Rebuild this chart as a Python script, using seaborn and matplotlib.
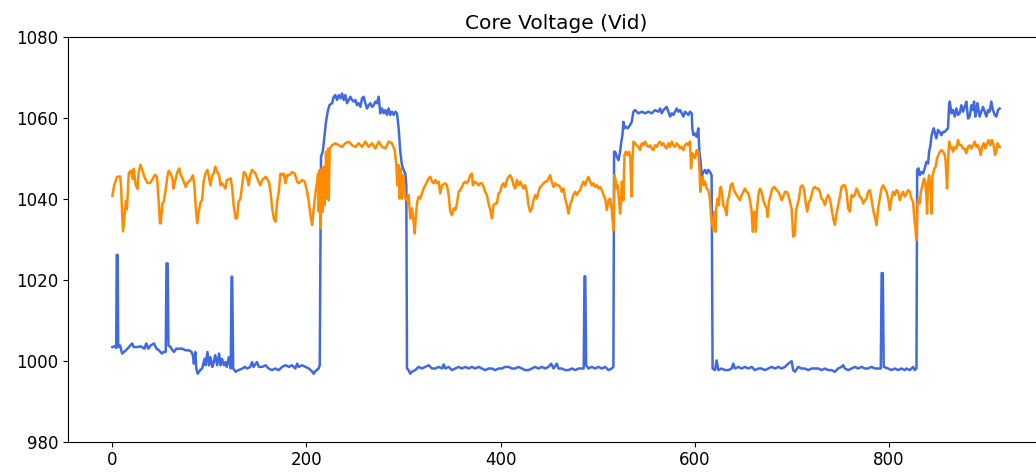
import matplotlib
matplotlib.use('Agg')
import matplotlib.pyplot as plt
import seaborn as sns

# Vid samples (sample index, mV)
blue_x = [0, 2, 4, 4.5, 5.5, 6, 8, 10, 12, 14, 17, 20.5, 22, 26, 29, 33, 35, 37, 39.5, 43, 45.5, 48, 51, 53, 55,
          55.8, 57, 57.8, 60, 62, 63.5, 66, 69, 72, 75.5, 79, 81.5, 83, 84, 85.5, 86.5, 88, 90.5, 92.5, 95, 96, 98,
          99.5, 101, 103, 104.5, 106, 108, 110, 111.5, 113, 115, 116.5, 118, 120, 122, 122.8, 123.5, 124.5, 127,
          130, 134, 136.5, 139, 142, 144, 145.5, 149, 151, 154.5,
          158, 161, 164.5, 168, 171.5, 175, 178.5, 182, 185, 188.5, 190.5, 192, 195.5, 199, 202.5, 206, 207.5, 209,
          212.5, 213.7, 215, 216.8, 217.8, 219, 220.2, 221.3, 222.3, 223.7, 226.4, 228.1, 229.8, 231.5, 233.3, 235,
          236.7, 238.4, 240.1, 241.8, 243.6, 245.3, 247, 248.7, 250.4, 252.1, 253.8, 255.6, 257.3, 259, 260.7,
          262.4, 264.1, 265.9, 267.6, 269.3, 271, 272.7, 274.4, 276.1, 277.9, 279.6, 281.3, 283, 284.7, 286.4,
          288.1, 289.9, 291.6, 293.3, 295, 296.7, 298.4, 300.1, 301.9, 302.9, 303.6, 305.3, 307, 308.7, 312.1,
          315.6, 319,
          322.5, 325.9, 329.4, 332.8, 336.2, 339.7, 341.4, 343.1, 346.5, 349.9, 353.4, 356.8, 360.2, 363.7, 367.1,
          370.5, 373.9, 377.4, 380.8, 384.2, 387.7, 391.1, 394.5, 398, 401.4, 404.8, 408.3, 411.7, 415.1, 418.5,
          422, 425.4, 428.8, 432.3, 435.7, 439.1, 442.6, 446, 449.4, 452.2, 454.6, 458, 459.7, 463.1, 466.6, 470,
          473.4, 476.9, 480.3, 483.7, 485.7, 486.5, 487.3, 488.2, 490.6,
          494, 497.5, 500.9, 504.4, 507.8, 511.2, 514.6, 516.3, 517, 518.1, 519.8, 521.5, 523.2, 524.2, 525.6,
          526.6, 527.7, 529, 531.1, 533.5, 535.2, 536.9, 538.6, 542.1, 545.5, 548.9, 552.4, 555.8, 559.2, 562.7,
          564.4, 566.1, 567.8, 569.5, 571.2, 573, 574.7, 576.4, 578.1, 579.8, 581.5, 583.2, 585, 586.7, 588.4,
          590.1, 591.8, 593.5, 595.2, 597, 597.6, 598.7, 600.4, 602.1, 603.8, 604.9, 606.2, 607.2, 609, 610.7,
          612.4, 614.1, 615.8, 617.5, 618.5, 621, 622.7, 624.4, 627.8, 631.3, 634.7, 638.1, 639.8, 641.6, 645,
          648.4, 651.9,
          655.3, 658.8, 662.2, 665.6, 669, 672.5, 675.9, 679.3, 682.8, 686.2, 689.6, 693.1, 696.5, 699.9, 701.6,
          703.3, 706.8, 710.2, 713.6, 717.1, 720.5, 723.9, 727.4, 730.8, 734.2, 737.6, 741.1, 744.5, 747.9, 751.4,
          753.1, 754.8, 758.2, 761.7, 765.1, 768.5, 772, 775.4, 778.8, 782.2, 785.7, 789.1, 791.8, 792.7, 793.9,
          794.8, 799.4, 802.8, 806.3, 809.7, 813.1, 816.6,
          818.3, 821.7, 823.4, 825.1, 826.8, 828.6, 829.3, 830.6, 832, 833.7, 835.4, 837.1, 838.8, 840.6, 841.6,
          843, 844, 845, 846.4, 847.8, 849.1, 850.8, 852.6, 854.3, 856, 857.7, 859.4, 861.1, 862.2, 862.9, 864.6,
          866.3, 868, 869.7, 871.4, 873.1, 874.9, 876.6, 878.3, 880, 881.7, 883.4, 885.2, 886.9, 887.9, 889.3,
          890.3, 891.3, 892.3, 893.7, 895.4, 897.2, 898.9, 900.6, 902.3, 904, 905.7, 907.4, 909.2, 910.9, 912.6,
          914.3]
blue_y = [1003.4, 1003.6, 1003.2, 1026.2, 1026.2, 1003.4, 1003.8, 1001.8, 1002.2, 1002.6, 1003.4, 1004.3, 1003.4,
          1003.4, 1003.6, 1003.0, 1004.3, 1003.0, 1003.8, 1004.3, 1003.0, 1002.6, 1001.8, 1002.2, 1002.2,
          1024.1, 1024.1, 1003.8, 1003.4, 1002.6, 1002.2, 1003.0, 1003.0, 1003.0, 1002.6, 1002.6, 1002.2, 1001.4,
          999.3, 1002.2, 998.1, 996.8, 997.7, 998.1, 1000.5, 998.9, 1002.2, 998.9, 1000.9, 998.5, 999.7, 1001.4,
          998.9, 1001.8, 998.9, 1000.5, 998.9, 999.7, 998.5, 1000.9, 998.1, 1020.8, 1020.8, 998.1, 997.3,
          997.7, 998.1, 998.5, 998.1, 998.5, 999.7, 998.5, 999.7, 998.5, 998.5,
          998.9, 998.1, 997.7, 998.1, 997.7, 998.5, 998.9, 998.5, 998.9, 998.1, 999.3, 998.5, 998.9, 998.5, 998.1,
          997.3, 996.8, 997.4, 998.1, 998.9, 1050.5, 1051.7, 1053.8, 1056.6, 1059.1, 1060.8, 1062.0, 1063.2,
          1063.7, 1065.3, 1065.7, 1064.5, 1065.7, 1064.9, 1066.1, 1064.5, 1065.7, 1063.7, 1064.5, 1065.3, 1064.5,
          1064.1, 1064.5, 1063.2, 1063.7, 1062.8, 1064.9, 1065.3, 1063.7, 1062.4, 1063.2, 1063.7, 1062.8, 1063.2,
          1064.1, 1063.7, 1065.3, 1061.2, 1062.4, 1061.2, 1062.0, 1060.8, 1062.4, 1060.8, 1061.6, 1060.8, 1061.6,
          1061.2, 1057.5, 1051.7, 1048.4, 1047.2, 1046.3, 1043.4, 998.1, 997.7, 996.8, 997.3, 997.7, 998.5, 998.1,
          998.5, 998.9, 998.1, 998.1, 998.5, 998.1, 999.1, 998.1, 998.5, 997.7, 998.1, 998.5, 998.1, 998.5, 998.1,
          998.5, 998.1, 998.5, 998.1, 997.7, 998.1, 998.1, 997.7, 998.1, 998.1, 998.5, 998.5, 998.1, 998.1, 998.5,
          998.1, 997.7, 997.7, 998.1, 998.5, 998.1, 998.5, 998.1, 998.5, 999.3, 998.1, 999.3, 998.1, 998.1, 997.7,
          997.7, 998.1, 997.7, 998.1, 998.1, 998.1, 1020.9, 1020.9, 998.9, 998.1,
          998.5, 998.1, 998.5, 998.1, 998.5, 997.7, 998.1, 998.5, 1051.7, 1051.7, 1050.5, 1049.6, 1051.7, 1053.8,
          1055.8, 1059.1, 1057.5, 1057.9, 1057.5, 1058.3, 1059.1, 1061.6, 1062.0, 1061.2, 1061.6, 1061.2, 1061.6,
          1061.2, 1062.0, 1061.6, 1062.4, 1061.2, 1062.0, 1062.4, 1062.8, 1061.6, 1060.4, 1061.2, 1060.8, 1061.6,
          1062.4, 1061.6, 1062.0, 1061.2, 1060.4, 1061.6, 1061.2, 1060.8, 1061.6, 1061.2, 1057.5, 1055.8, 1056.2,
          1055.4, 1057.5, 1051.7, 1049.2, 1045.5, 1046.7, 1047.2, 1046.3, 1047.2, 1046.7, 1045.9, 998.1, 997.7,
          1000.1, 997.7, 998.1, 997.7, 997.7, 998.1, 999.3, 998.1, 998.5, 998.1, 998.5,
          998.1, 998.5, 997.7, 998.1, 998.1, 997.7, 998.1, 998.5, 998.1, 998.5, 998.1, 998.5, 999.3, 999.9, 997.7,
          997.3, 998.5, 998.1, 998.1, 997.7, 998.1, 998.1, 998.1, 997.7, 998.1, 997.7, 997.7, 997.3, 998.1, 998.5,
          998.9, 998.1, 997.7, 998.1, 998.5, 998.1, 998.5, 998.1, 998.1, 998.5, 998.1, 998.1, 998.1, 1021.7,
          1021.7, 998.5, 998.1, 997.7, 998.1, 997.7, 998.1, 997.7,
          998.1, 997.7, 998.1, 998.5, 997.7, 998.1, 1047.2, 1047.6, 1045.9, 1046.7, 1046.3, 1047.6, 1049.2,
          1048.8, 1051.7, 1053.3, 1055.4, 1056.6, 1057.5, 1056.2, 1055.0, 1057.1, 1056.6, 1055.8, 1056.6, 1056.6,
          1057.1, 1057.5, 1063.2, 1064.1, 1061.2, 1062.0, 1060.4, 1062.4, 1060.8, 1061.2, 1063.2, 1061.6, 1062.8,
          1064.1, 1059.9, 1060.4, 1063.2, 1062.0, 1064.1, 1060.4, 1061.6, 1063.7, 1062.4, 1060.4, 1061.6, 1062.8,
          1061.6, 1060.4, 1062.0, 1061.6, 1064.1, 1062.0, 1060.8, 1060.4, 1062.0, 1062.4]

orange_x = [0, 2, 5, 8, 9, 10, 11, 13, 14, 15, 17, 19, 21, 22, 24, 26, 27, 29, 31, 33, 36, 39, 44, 46, 48, 49, 50,
            51.5, 53, 55, 57, 58, 60, 62, 63, 64.5, 67, 69, 70, 73, 75.5, 77, 80.5, 83, 84.5, 86, 87.5, 89, 91,
            92.5, 94, 96, 98, 99.5, 101, 103, 104.5, 106, 108, 110, 111.5, 113, 116.5, 118, 122, 123.5, 125, 127,
            128.5, 130, 132, 134, 135.5, 137, 139, 140.5, 142, 144, 147.5, 150, 152.5, 154.5,
            158, 161.2, 163, 164.7, 166.4, 168.1, 169.8, 171.5, 173.2, 175, 176.7, 178.4, 180.1, 182.5, 185.2, 188,
            190.4, 192.1, 195.5, 198.3, 200.7, 202.4, 204.1, 205.8, 207.5, 208.6, 209.9, 211, 212, 212.7, 213.7,
            214.7, 215.4, 216.1, 216.8, 217.8, 218.5, 219.5, 220.2, 221.3, 222.3, 223, 224, 226.4, 229.8, 233.3,
            236.7, 240.1, 243.6, 247, 250.4, 253.8, 257.3, 260.7, 264.1, 267.6, 271, 274.4, 277.9, 281.3, 284.7,
            288.1, 290.9, 292.6, 293.6, 295, 296, 297.1, 298.4, 299.5, 300.8, 301.9, 303.6, 305.3, 307, 308.7,
            310.4, 311.5, 312.8, 314.2, 315.6, 317.3, 319, 320.7,
            322.5, 325.9, 327.6, 329.4, 331.1, 332.8, 334.5, 336.2, 337.9, 339.7, 343.1, 344.8, 346.5, 348.2,
            349.9, 351.7, 353.4, 355.1, 356.8, 358.5, 360.2, 361.9, 363.7, 365.4, 367.1, 368.8, 370.5, 371.5,
            373.3, 375.7, 377.4, 379.1, 380.8, 382.5, 384.2, 385.9, 387.7, 389.4, 391.1, 392.8, 394.5, 396.2, 398,
            399.7, 401.4, 403.1, 404.8, 406.5, 408.3, 410, 411.7, 413.4, 415.1, 416.8, 418.5, 420.3, 422, 423.7,
            425.4, 427.1, 428.8, 430.5, 432.3, 434, 435.7, 437.4, 439.1, 440.8, 442.6, 444.3, 446, 447.7, 449.4,
            451.1, 452.8, 454.6, 456.3, 458, 459.7, 461.4, 463.1, 464.9, 466.6, 468.3, 470, 471.7, 473.4, 475.1,
            476.9, 478.6, 480.3, 482, 483.7, 485.4,
            487.2, 488.9, 490.6, 492.3, 494, 495.8, 497.5, 499.2, 500.9, 502.6, 504.4, 506.1, 507.8, 509.5, 511.2,
            512.9, 514.6, 516.4, 517.4, 518.8, 519.8, 520.8, 522.2, 523.2, 524.2, 524.9, 525.9, 526.6, 527.7, 529,
            530.8, 532.5, 533.8, 534.9, 535.9, 536.9, 538.6, 540.4, 542.1, 543.8, 545.5, 547.2, 548.9, 550.7,
            552.4, 554.1, 555.8, 557.5, 559.2, 561, 562.7, 564.4, 566.1, 567.8, 569.5, 571.2, 573, 574.7, 576.4,
            578.1, 579.8, 581.5, 583.2, 585, 586.7, 588.4, 590.1, 591.8, 593.5, 595.2, 596.3, 597.6, 599, 600.4,
            602.1, 603.8, 604.9, 605.9, 607.2, 608.3, 609.3, 610.7, 612.4, 614.1, 615.8, 616.9, 618.2, 619.3,
            620.3, 621.3, 622.3, 623.7, 625.1, 626.1, 627.1, 628.5, 629.5, 631.3, 633, 634, 635.4, 637.1, 638.8,
            640.5, 642.2, 644.3, 646.7, 648.4, 650.1,
            651.9, 653.6, 655.3, 657, 658.8, 659.8, 661.5, 662.9, 664.2, 665.6, 667.3, 669, 670.8, 672.5, 674.2,
            675.2, 676.6, 678.3, 680, 682.1, 684.5, 686.2, 687.9, 689.6, 691.3, 693.1, 694.8, 696.5, 698.2, 699.9,
            701.6, 703.3, 704.4, 705.8, 707.5, 709.2, 710.9, 712.6, 714.3, 716, 717.8, 719.1, 720.5, 722.2, 723.9,
            725.6, 727.4, 729.1, 730.8, 732.5, 734.2, 735.9, 737.6, 739.4, 741.1, 742.8, 744.5, 746.2, 747.9,
            749.7, 751.4, 753.1, 754.8, 756.5, 758.2, 760, 761.7, 763.4, 765.1, 766.8, 768.5, 770.2, 772, 773.7,
            775.4, 777.1, 778.8, 780.5, 782.2, 784, 785.7, 787.4, 789.1, 790.8, 792.5, 794.2, 796, 797.7, 799.4,
            801.1, 802.8, 804.5, 806.3, 808, 809.7, 811.4, 813.1, 814.8, 816.6,
            818.3, 820, 821.7, 823.4, 825.1, 826.1, 827.2, 828.6, 829.6, 830.6, 832, 833, 834, 835.4, 836.4, 837.5,
            838.8, 839.5, 840.6, 841.6, 843, 844, 845, 845.7, 847.1, 848.4, 849.8, 851.2, 852.6, 854.3, 856, 857.7,
            858.7, 860.1, 861.1, 862.2, 863.5, 864.9, 866.3, 868, 869.7, 871.4, 873.1, 874.9, 876.6, 878.3, 880,
            881.7, 883.4, 885.2, 886.9, 888.6, 890.3, 892, 893.7, 894.8, 896.1, 897.8, 899.6, 901.3, 903, 904.7,
            906.4, 908.1, 909.5, 910.9, 912.2, 913.6, 914.3]
orange_y = [1040.8, 1043.5, 1045.5, 1045.6, 1043.0, 1037.0, 1032.0, 1037.0, 1039.5, 1037.5, 1046.5, 1047.0, 1045.0,
            1047.5, 1043.5, 1042.5, 1046.5, 1048.5, 1047.0, 1045.5, 1044.0, 1044.0, 1046.0, 1045.5, 1038.5, 1034.0,
            1034.0, 1039.0, 1039.3, 1042.5, 1046.0, 1047.0, 1046.3, 1045.0, 1042.6, 1044.3, 1046.7, 1047.6, 1046.3,
            1044.7, 1043.0, 1043.9, 1044.7, 1045.9, 1043.4, 1037.7, 1034.0, 1036.9, 1039.3, 1039.7, 1044.3, 1046.3,
            1047.2, 1045.5, 1043.4, 1045.9, 1046.3, 1048.0, 1046.7, 1045.9, 1043.4, 1043.9, 1042.6, 1044.7, 1045.1,
            1042.6, 1038.5, 1035.2, 1035.2, 1039.3, 1040.1, 1043.9, 1046.7, 1046.3, 1045.1, 1043.4, 1045.9, 1047.2,
            1046.3, 1044.7, 1043.4, 1044.7,
            1045.5, 1044.3, 1041.8, 1037.7, 1035.2, 1034.4, 1039.3, 1041.8, 1046.3, 1045.9, 1046.3, 1043.9, 1045.9,
            1045.9, 1046.7, 1046.3, 1044.3, 1043.9, 1044.7, 1044.3, 1041.8, 1039.3, 1036.0, 1033.6, 1037.7, 1040.1,
            1042.6, 1044.3, 1046.3, 1036.9, 1047.2, 1032.7, 1043.4, 1047.6, 1036.9, 1048.0, 1038.5, 1044.3, 1051.7,
            1040.1, 1052.5, 1039.7, 1052.5, 1053.3, 1053.8, 1053.3, 1052.9, 1053.8, 1054.2, 1053.3, 1052.9, 1053.8,
            1052.9, 1054.2, 1052.9, 1053.8, 1052.5, 1054.2, 1052.9, 1052.5, 1054.2, 1053.8, 1052.1, 1048.4, 1043.4,
            1048.4, 1040.1, 1047.6, 1040.1, 1045.9, 1043.4, 1040.1, 1039.7, 1041.0, 1035.2, 1037.7, 1034.4, 1031.5,
            1036.0, 1039.3, 1040.6, 1040.1, 1041.4, 1042.6,
            1043.4, 1045.1, 1045.5, 1044.3, 1043.9, 1044.7, 1043.9, 1044.3, 1041.4, 1043.4, 1043.9, 1043.4, 1041.0,
            1036.9, 1036.0, 1037.7, 1037.3, 1038.9, 1041.8, 1042.2, 1043.0, 1043.9, 1044.3, 1043.9, 1044.7, 1045.9,
            1046.3, 1043.4, 1044.3, 1043.9, 1043.4, 1043.9, 1043.9, 1043.0, 1041.8, 1041.0, 1038.9, 1037.3, 1035.2,
            1038.5, 1038.9, 1038.9, 1041.4, 1041.8, 1043.4, 1043.9, 1043.0, 1044.7, 1045.5, 1045.9, 1045.1, 1043.4,
            1042.6, 1044.7, 1043.4, 1044.3, 1043.4, 1042.6, 1043.4, 1041.8, 1038.5, 1036.9, 1037.7, 1039.7, 1041.0,
            1040.1, 1041.8, 1043.0, 1043.4, 1043.9, 1044.3, 1044.3, 1045.1, 1045.9, 1044.3, 1043.0, 1043.9, 1043.4,
            1043.4, 1043.0, 1041.8, 1042.6, 1040.1, 1038.5, 1036.4, 1038.5, 1039.7, 1041.0, 1041.8, 1041.0, 1041.8,
            1042.2, 1043.4, 1044.3,
            1043.4, 1044.7, 1045.5, 1044.3, 1043.4, 1043.9, 1043.0, 1043.4, 1042.6, 1043.0, 1042.2, 1041.0, 1040.1,
            1037.3, 1039.7, 1040.1, 1037.3, 1032.3, 1045.9, 1044.3, 1042.6, 1043.4, 1039.3, 1036.4, 1039.3, 1044.3,
            1043.4, 1039.7, 1050.9, 1051.7, 1050.9, 1051.7, 1050.1, 1040.6, 1049.2, 1054.2, 1053.8, 1053.3, 1052.9,
            1052.1, 1053.8, 1053.3, 1054.2, 1053.3, 1052.9, 1053.3, 1052.5, 1052.1, 1053.3, 1052.9, 1053.8, 1054.2,
            1053.3, 1053.8, 1052.9, 1052.5, 1053.8, 1052.9, 1054.2, 1053.3, 1052.9, 1053.8, 1053.3, 1052.5, 1052.9,
            1052.1, 1053.3, 1053.8, 1053.3, 1054.2, 1047.6, 1051.3, 1050.9, 1050.1, 1052.1, 1051.7, 1047.6, 1041.8,
            1045.1, 1045.5, 1043.4, 1044.3, 1042.6, 1042.2, 1040.1, 1036.0, 1033.6, 1032.3, 1036.9, 1031.9, 1037.7,
            1040.1, 1038.5, 1042.6, 1043.0, 1041.0, 1038.5, 1037.7, 1036.0, 1039.7, 1040.6, 1043.4, 1043.9, 1042.2,
            1041.4, 1040.6, 1039.7, 1041.0, 1041.8,
            1042.6, 1041.8, 1041.4, 1039.7, 1036.9, 1031.9, 1036.9, 1031.9, 1036.9, 1041.0, 1042.6, 1041.8, 1039.7,
            1038.5, 1037.7, 1035.6, 1039.3, 1041.0, 1042.6, 1043.0, 1042.2, 1041.8, 1041.0, 1039.7, 1040.6, 1041.8,
            1041.8, 1041.0, 1039.3, 1037.7, 1030.7, 1031.1, 1036.9, 1038.5, 1040.1, 1043.0, 1043.4, 1042.6, 1039.3,
            1036.9, 1039.3, 1039.7, 1041.0, 1042.6, 1043.0, 1042.6, 1042.6, 1041.8, 1040.1, 1039.7, 1038.5, 1040.1,
            1041.0, 1040.1, 1037.7, 1035.2, 1033.6, 1036.4, 1038.5, 1040.6, 1043.0, 1043.4, 1043.4, 1041.8, 1037.7,
            1036.9, 1041.0, 1040.6, 1041.0, 1042.6, 1041.8, 1040.6, 1040.1, 1038.9, 1039.7, 1040.1, 1041.8, 1042.2,
            1040.1, 1037.3, 1035.6, 1033.6, 1037.7, 1040.1, 1042.6, 1043.4, 1042.6, 1041.8, 1040.1, 1037.3, 1040.1,
            1041.8, 1041.0, 1042.2, 1041.8, 1039.7, 1041.0, 1041.8, 1040.6,
            1041.4, 1042.2, 1041.8, 1040.1, 1039.3, 1036.0, 1033.6, 1029.8, 1038.5, 1040.1, 1038.9, 1041.8, 1042.6,
            1044.3, 1045.1, 1044.3, 1041.0, 1036.4, 1044.3, 1045.9, 1043.4, 1036.4, 1045.5, 1046.3, 1047.6, 1048.0,
            1050.1, 1050.9, 1051.7, 1052.1, 1051.7, 1050.9, 1049.2, 1042.6, 1049.2, 1054.2, 1052.5, 1052.9, 1051.7,
            1052.9, 1052.5, 1054.6, 1053.3, 1053.3, 1052.5, 1052.5, 1051.3, 1052.9, 1053.3, 1052.5, 1053.3, 1054.2,
            1052.9, 1053.3, 1052.1, 1050.9, 1052.9, 1053.8, 1052.5, 1053.8, 1054.6, 1053.3, 1054.6, 1053.3, 1050.9,
            1051.7, 1053.8, 1052.9, 1052.9]

y_ticks = [980, 1000, 1020, 1040, 1060, 1080]
x_ticks = [0, 200, 400, 600, 800]

fig = plt.figure(figsize=(10.36, 4.76), dpi=100)
# axes run a little past the right edge of the picture, like the reference
ax = fig.add_axes([68 / 1036, 1 - 441.7 / 476, (1044 - 68) / 1036, (441.7 - 37.3) / 476])

sns.lineplot(x=blue_x, y=blue_y, color='royalblue', linewidth=1.8, estimator=None, ax=ax)
sns.lineplot(x=orange_x, y=orange_y, color='darkorange', linewidth=1.8, estimator=None, ax=ax)

ax.set_xlim(-45.7, 960)
ax.set_ylim(980, 1080)
ax.set_xticks(x_ticks)
ax.set_yticks(y_ticks)
ax.tick_params(labelsize=12)
ax.set_title('Core Voltage (Vid)', fontsize=14.5)

fig.savefig('out.png', dpi=100)
